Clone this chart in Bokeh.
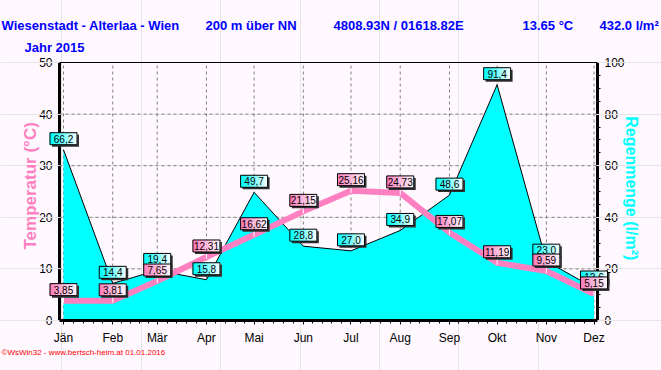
import datetime
import math
from bokeh.plotting import figure
from bokeh.models import (Range1d, LinearAxis, FixedTicker, SingleIntervalTicker,
                          ColumnDataSource)
from bokeh.core.properties import value
from bokeh.embed import file_html
from bokeh.resources import INLINE

# ---------------- data ----------------
year = 2015
months = ["Jän", "Feb", "Mär", "Apr", "Mai", "Jun", "Jul", "Aug", "Sep", "Okt", "Nov", "Dez"]
temperature = [3.85, 3.81, 7.65, 12.31, 16.62, 21.15, 25.16, 24.73, 17.07, 11.19, 9.59, 5.15]
rain = [66.2, 14.4, 19.4, 15.8, 49.7, 28.8, 27.0, 34.9, 48.6, 91.4, 23.0, 12.6]
title_parts = ["Wiesenstadt - Alterlaa - Wien", "200 m über NN", "4808.93N / 01618.82E",
               "13.65 °C", "432.0 l/m²"]
year_label = "Jahr  2015"
temp_title = "Temperatur  (°C)"
rain_title = "Regenmenge  (l/m²)"
footer = "©WsWin32 - www.bertsch-heim.at  01.01.2016"

days = [datetime.date(year, m, 1).timetuple().tm_yday for m in range(1, 13)]

# ---------------- layout constants ----------------
W, H = 661, 370
BG = "#FFF8FF"
PINK = "#FF80C0"
CYAN = "#00FFFF"
BLUE = "#0000FF"
FONT = "Liberation Sans"
AX_L, AX_R, AX_T, AX_B = 59, 597, 62, 320     # plot area edges in window px
JAN_PX, DEZ_PX = 63, 593.5
PX = (days[-1] - days[0]) / (DEZ_PX - JAN_PX)  # days per px
PY = 50.0 / (AX_B - AX_T)                      # degC per px
PYR = 2 * PY                                   # l/m2 per px


def xd(px):
    return days[0] + (px - JAN_PX) * PX


def yd(py):
    return (AX_B - py) * PY


p = figure(width=W, height=H, title=None,
           x_range=Range1d(xd(0), xd(W)), y_range=Range1d(yd(H), yd(0)),
           x_axis_location=None, y_axis_location=None,
           output_backend="svg", toolbar_location=None,
           min_border=0)
p.background_fill_color = BG
p.border_fill_color = BG
p.outline_line_color = None
p.extra_y_ranges = {"rain": Range1d(2 * yd(H), 2 * yd(0))}

XL, XR = xd(AX_L), xd(AX_R)

# grid (dashed)
p.segment(x0=days, y0=[0] * 12, x1=days, y1=[50] * 12,
          line_color="#808080", line_dash="3 3", line_width=1)
gy = [10, 20, 30, 40]
p.segment(x0=[XL] * 4, y0=gy, x1=[XR] * 4, y1=gy,
          line_color="#808080", line_dash="3 3", line_width=1)

# rain area
p.varea(x=days, y1=[0] * len(days), y2=rain, y_range_name="rain", fill_color=CYAN)
p.line(days, rain, y_range_name="rain", line_color="black", line_width=1)

# top frame line
p.segment(x0=[XL], y0=[50], x1=[XR], y1=[50], line_color="black", line_width=1)

# x axis
minor = []
for a, b in zip(days[:-1], days[1:]):
    for k in range(1, 5):
        minor.append(a + (b - a) * k / 5.0)
xax = LinearAxis(fixed_location=0, bounds=(XL, XR),
                 ticker=FixedTicker(ticks=days, minor_ticks=minor))
xax.major_label_overrides = {d: m for d, m in zip(days, months)}
xax.axis_line_width = 3
xax.major_tick_out = 4
xax.major_tick_in = 0
xax.minor_tick_out = 3
xax.minor_tick_in = 0
xax.major_label_standoff = 6
xax.major_label_text_font = FONT
xax.major_label_text_font_size = "12px"
xax.major_label_text_color = "black"
p.add_layout(xax, "below")

# left axis
yax = LinearAxis(fixed_location=XL, bounds=(0, 50),
                 ticker=SingleIntervalTicker(interval=10, num_minor_ticks=0))
yax.axis_line_width = 3
yax.major_tick_out = 5
yax.major_tick_in = 0
yax.minor_tick_line_color = None
yax.major_label_standoff = 2
yax.major_label_text_font = FONT
yax.major_label_text_font_size = "12px"
yax.major_label_text_color = "black"
yax.level = "underlay"
p.add_layout(yax, "left")

# right axis
rax = LinearAxis(y_range_name="rain", fixed_location=XR, bounds=(0, 100),
                 ticker=SingleIntervalTicker(interval=20, num_minor_ticks=4))
rax.axis_line_width = 3
rax.major_tick_out = 5
rax.major_tick_in = 0
rax.minor_tick_out = 3
rax.minor_tick_in = 0
rax.major_label_standoff = 2
rax.major_label_text_font = FONT
rax.major_label_text_font_size = "12px"
rax.major_label_text_color = "black"
rax.level = "underlay"
p.add_layout(rax, "right")

# temperature line
p.line(days, temperature, line_color=PINK, line_width=6)
p.segment(x0=days, y0=[t - 2 * PY for t in temperature], x1=days,
          y1=[t + 5 * PY for t in temperature], line_color="white", line_width=1)


def lerp(c1, c2, t):
    return "#%02x%02x%02x" % tuple(int(round(a + (b - a) * t)) for a, b in zip(c1, c2))


def label_boxes(xs, ys, texts, c_start, c_end, rng, unit):
    bw, bh, n = 27, 12, 9
    cy = [y + 11 * unit for y in ys]
    p.rect(x=[x + 2 * PX for x in xs], y=[c - 2 * unit for c in cy], width=bw, height=bh,
           width_units="screen", height_units="screen", fill_color="#303030",
           line_color=None, y_range_name=rng)
    sx, sy, sc = [], [], []
    sw = bw / n
    for x, c in zip(xs, cy):
        for i in range(n):
            sx.append(x + (-bw / 2 + sw / 2 + i * sw) * PX)
            sy.append(c)
            sc.append(lerp(c_start, c_end, i / (n - 1)))
    src = ColumnDataSource(dict(x=sx, y=sy, c=sc))
    p.rect(x="x", y="y", width=sw + 0.6, height=bh, width_units="screen", height_units="screen",
           fill_color="c", line_color=None, source=src, y_range_name=rng)
    p.rect(x=xs, y=cy, width=bw, height=bh, width_units="screen", height_units="screen",
           fill_color=None, line_color="black", line_width=1, y_range_name=rng)
    p.text(x=xs, y=cy, text=texts, text_align="center", text_baseline="middle",
           text_font=value(FONT), text_font_size="10px", text_color="black",
           y_range_name=rng)


label_boxes(days, rain, [("%.1f" % r).replace(".", ",") for r in rain],
            (0, 255, 255), (235, 255, 255), "rain", PYR)
label_boxes(days, temperature, [("%.2f" % t).replace(".", ",") for t in temperature],
            (255, 128, 192), (255, 240, 248), "default", PY)

# header / titles
title_x = [1, 205, 333, 522, 599]
p.text(x=[xd(v) for v in title_x], y=[yd(25)] * len(title_x), text=title_parts,
       text_font=value(FONT), text_font_size="13px", text_font_style="bold",
       text_color=BLUE, text_baseline="middle", text_align="left")
p.text(x=[xd(24)], y=[yd(47)], text=[year_label], text_font=value(FONT),
       text_font_size="13px", text_font_style="bold", text_color=BLUE,
       text_baseline="middle", text_align="left")
p.text(x=[xd(30)], y=[yd(183)], text=[temp_title], angle=math.pi / 2,
       text_font=value(FONT), text_font_size="17px", text_font_style="bold",
       text_color=PINK, text_align="center", text_baseline="middle")
p.text(x=[xd(631)], y=[yd(190)], text=[rain_title], angle=-math.pi / 2,
       text_font=value(FONT), text_font_size="16px", text_font_style="bold",
       text_color=CYAN, text_align="center", text_baseline="middle")
p.text(x=[xd(1)], y=[yd(352)], text=[footer], text_font=value(FONT), text_font_size="8px",
       text_color="#FF0000", text_baseline="middle", text_align="left")

html = file_html(p, INLINE)
html = html.replace("</head>", "<style>body{background:%s;}</style></head>" % BG)
open("out.html", "w").write(html)
